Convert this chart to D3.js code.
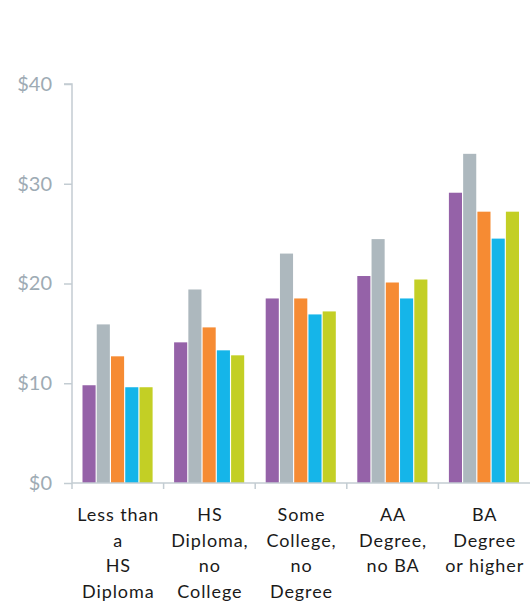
<!DOCTYPE html>
<html>
<head>
<meta charset="utf-8">
<script src="https://cdn.jsdelivr.net/npm/d3@7"></script>
<style>
  html, body { margin: 0; padding: 0; background: #fff; }
  svg { display: block; }
</style>
</head>
<body>
<svg id="chart" width="530" height="602"></svg>
<script>
// Education levels (each label split into its display lines)
const categories = [
  "Less than\na\nHS\nDiploma",
  "HS\nDiploma,\nno\nCollege",
  "Some\nCollege,\nno\nDegree",
  "AA\nDegree,\nno BA",
  "BA\nDegree\nor higher"
];
const seriesNames = ["Series A", "Series B", "Series C", "Series D", "Series E"];
const seriesColors = ["#9562a8", "#adb8be", "#f68b33", "#15b5e9", "#c3cf25"];

// Hourly values per series, in category order
const seriesA = [9.8, 14.1, 18.5, 20.75, 29.1];
const seriesB = [15.9, 19.4, 23.0, 24.45, 33.0];
const seriesC = [12.7, 15.6, 18.5, 20.1, 27.2];
const seriesD = [9.6, 13.3, 16.9, 18.5, 24.5];
const seriesE = [9.6, 12.8, 17.2, 20.4, 27.2];
const yTicks = [0, 10, 20, 30, 40];

const seriesValues = [seriesA, seriesB, seriesC, seriesD, seriesE];

const svg = d3.select("#chart");
const margin = { left: 72, right: 0, top: 84, bottom: 119 };
const W = 530, H = 602;
const plotBottom = H - margin.bottom;

const x0 = d3.scaleBand().domain(categories).range([margin.left, W]).padding(0);
const x1 = d3.scaleBand().domain(seriesNames)
  .range([10.5, x0.bandwidth() - 11]).paddingInner(0.08).paddingOuter(0);
const y = d3.scaleLinear().domain([0, 40]).range([plotBottom, margin.top]);

const axisColor = "#c3ccd2";
const tickTextColor = "#9eabb4";

// Bars
const groups = svg.append("g").selectAll("g")
  .data(categories)
  .join("g")
  .attr("transform", d => `translate(${x0(d)},0)`);

groups.selectAll("rect")
  .data((c, ci) => seriesNames.map((s, si) => ({ s, si, v: seriesValues[si][ci] })))
  .join("rect")
  .attr("x", d => x1(d.s))
  .attr("y", d => y(d.v))
  .attr("width", x1.bandwidth())
  .attr("height", d => y(0) - y(d.v))
  .attr("fill", d => seriesColors[d.si]);

// Y axis
const yAxis = d3.axisLeft(y).tickValues(yTicks).tickSize(8).tickPadding(12)
  .tickFormat(d => "$" + d);
const gy = svg.append("g").attr("transform", `translate(${margin.left},0)`).call(yAxis);
gy.select(".domain").attr("stroke", axisColor).attr("stroke-width", 1.5)
  .attr("d", `M-8,${y(40)}H0V${y(0)}`);
gy.selectAll(".tick line").attr("stroke", axisColor).attr("stroke-width", 1.5);
gy.selectAll(".tick text")
  .attr("fill", tickTextColor)
  .style("font-family", "Lato, 'Open Sans', sans-serif")
  .style("font-size", "20px");

// X axis baseline with boundary ticks between categories
const gx = svg.append("g");
gx.append("line")
  .attr("x1", margin.left).attr("x2", W)
  .attr("y1", y(0)).attr("y2", y(0))
  .attr("stroke", axisColor).attr("stroke-width", 1.5);
gx.selectAll("line.tick")
  .data(categories)
  .join("line")
  .attr("class", "tick")
  .attr("x1", d => x0(d)).attr("x2", d => x0(d))
  .attr("y1", y(0)).attr("y2", y(0) + 6)
  .attr("stroke", axisColor).attr("stroke-width", 1.5);

// Category labels
const labels = svg.append("g").selectAll("text")
  .data(categories)
  .join("text")
  .attr("text-anchor", "middle")
  .attr("fill", "#1a1a1a")
  .style("font-family", "Lato, 'Open Sans', sans-serif")
  .style("font-size", "18px")
  .style("letter-spacing", "0.9px")
  .attr("x", d => x0(d) + x0.bandwidth() / 2 + 0.5)
  .attr("y", plotBottom + 38);

labels.selectAll("tspan")
  .data(d => d.split("\n"))
  .join("tspan")
  .attr("x", function () { return d3.select(this.parentNode).attr("x"); })
  .attr("dy", (d, i) => i === 0 ? 0 : 25.6)
  .text(d => d);
</script>
</body>
</html>
